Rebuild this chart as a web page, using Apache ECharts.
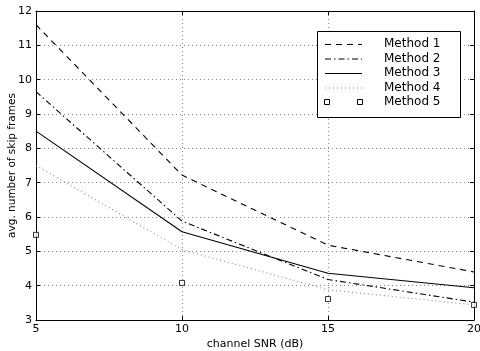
<!DOCTYPE html>
<html><head><meta charset="utf-8">
<script src="https://cdn.jsdelivr.net/npm/echarts@6/dist/echarts.min.js"></script>
<style>html,body{margin:0;padding:0;background:#fff}#c{width:480px;height:351px}</style>
</head><body><div id="c"></div>
<script>
const snr = [5, 10, 15, 20];
const method1 = [11.6, 7.22, 5.18, 4.40];
const method2 = [9.65, 5.88, 4.18, 3.52];
const method3 = [8.5, 5.57, 4.36, 3.94];
const method4 = [7.5, 5.05, 3.88, 3.44];
const method5 = [5.48, 4.08, 3.61, 3.44];
const names = ['Method 1', 'Method 2', 'Method 3', 'Method 4', 'Method 5'];
const FONT = 'DejaVu Sans';

const pair = arr => snr.map((x, i) => [x, arr[i]]);
const chart = echarts.init(document.getElementById('c'), null, {renderer: 'canvas'});
const gridLine = {show: true, lineStyle: {color: '#888', type: [1, 3], width: 1}};
const lineBase = {type: 'line', symbol: 'none', xAxisIndex: 0, yAxisIndex: 0, animation: false};

// legend drawn as graphic
const L = {x: 317, y: 31, w: 143, h: 86, row: 14.5, first: 13, lx0: 325, lx1: 362, tx: 384};
const legendStyles = [
  {stroke: '#000', lineDash: [6, 5]},
  {stroke: '#000', lineDash: [6, 3, 1.5, 3]},
  {stroke: '#000', lineDash: null},
  {stroke: '#888', lineDash: [1, 3]}
];
const g = [{type: 'rect', shape: {x: L.x + 0.5, y: L.y + 0.5, width: L.w, height: L.h}, style: {fill: '#fff', stroke: '#000', lineWidth: 1}, z: 100}];
names.forEach((n, i) => {
  const y = L.y + L.first + i * L.row;
  if (i < 4) {
    g.push({type: 'line', shape: {x1: L.lx0, y1: y + 0.5, x2: L.lx1, y2: y + 0.5}, style: {stroke: legendStyles[i].stroke, lineWidth: 1.1, lineDash: legendStyles[i].lineDash}, z: 101});
  } else {
    [L.lx0 + 2, L.lx1 - 2].forEach(cx => g.push({type: 'rect', shape: {x: cx - 2.5, y: y - 2.5, width: 5, height: 5}, style: {fill: '#fff', stroke: '#000', lineWidth: 1}, z: 101}));
  }
  g.push({type: 'text', x: L.tx, y: y, style: {text: n, font: '12px "' + FONT + '"', fill: '#000', textVerticalAlign: 'middle'}, z: 101});
});

chart.setOption({
  animation: false,
  backgroundColor: '#fff',
  grid: {left: 36, top: 11, right: 6, bottom: 31, containLabel: false, outerBoundsMode: 'none'},
  xAxis: [
    {type: 'value', min: 5, max: 20, interval: 5, position: 'bottom',
     name: 'channel SNR (dB)', nameLocation: 'middle', nameGap: 19, nameMoveOverlap: false,
     nameTextStyle: {fontFamily: FONT, fontSize: 11, color: '#000'},
     axisLine: {show: true, lineStyle: {color: '#000', width: 1}},
     axisTick: {show: true, inside: true, length: 4, lineStyle: {color: '#000'}},
     axisLabel: {fontFamily: FONT, fontSize: 11, color: '#000', margin: 4},
     splitLine: gridLine},
    {type: 'value', min: 5, max: 20, interval: 5, position: 'top',
     axisLine: {show: true, lineStyle: {color: '#000', width: 1}},
     axisTick: {show: true, inside: true, length: 4, lineStyle: {color: '#000'}},
     axisLabel: {show: false}, splitLine: {show: false}}
  ],
  yAxis: [
    {type: 'value', min: 3, max: 12, interval: 1, position: 'left',
     name: 'avg. number of skip frames', nameLocation: 'middle', nameGap: 18, nameMoveOverlap: false,
     nameTextStyle: {fontFamily: FONT, fontSize: 10.5, color: '#000'},
     axisLine: {show: true, lineStyle: {color: '#000', width: 1}},
     axisTick: {show: true, inside: true, length: 4, lineStyle: {color: '#000'}},
     axisLabel: {fontFamily: FONT, fontSize: 11, color: '#000', margin: 4},
     splitLine: gridLine},
    {type: 'value', min: 3, max: 12, interval: 1, position: 'right',
     axisLine: {show: true, lineStyle: {color: '#000', width: 1}},
     axisTick: {show: true, inside: true, length: 4, lineStyle: {color: '#000'}},
     axisLabel: {show: false}, splitLine: {show: false}}
  ],
  series: [
    Object.assign({}, lineBase, {name: names[0], data: pair(method1), lineStyle: {color: '#000', width: 1.1, type: [6, 5]}}),
    Object.assign({}, lineBase, {name: names[1], data: pair(method2), lineStyle: {color: '#000', width: 1.1, type: [6, 3, 1.5, 3]}}),
    Object.assign({}, lineBase, {name: names[2], data: pair(method3), lineStyle: {color: '#000', width: 1.1, type: 'solid'}}),
    Object.assign({}, lineBase, {name: names[3], data: pair(method4), lineStyle: {color: '#888', width: 1.1, type: [1, 3]}}),
    {type: 'scatter', name: names[4], data: pair(method5), symbol: 'rect', symbolSize: 5,
     itemStyle: {color: '#fff', borderColor: '#000', borderWidth: 1}, animation: false}
  ],
  graphic: g
});
</script></body></html>
